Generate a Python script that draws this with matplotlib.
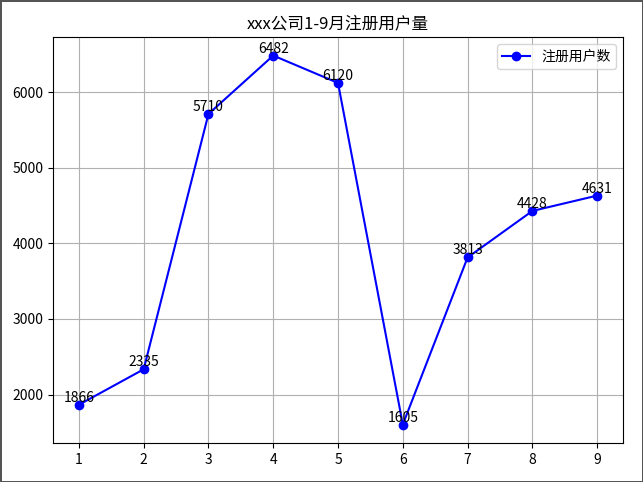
import matplotlib
matplotlib.use("Agg")
import matplotlib.pyplot as plt

plt.rcParams['font.family'] = ['Noto Sans CJK SC', 'DejaVu Sans']
plt.rcParams['axes.unicode_minus'] = False

months = [1, 2, 3, 4, 5, 6, 7, 8, 9]
users = [1866, 2335, 5710, 6482, 6120, 1605, 3813, 4428, 4631]
title = "xxx公司1-9月注册用户量"
series_name = "注册用户数"

fig = plt.figure(figsize=(6.43, 4.82), dpi=100, edgecolor='#555555', linewidth=2)
ax = fig.add_subplot(111)
fig.subplots_adjust(left=0.0824, right=0.969, top=0.923, bottom=0.081)

ax.plot(months, users, color='blue', marker='o', label=series_name)
for x, y in zip(months, users):
    ax.text(x, y, str(y), ha='center', va='bottom', fontsize=10)
ax.set_title(title, fontsize=12)
ax.set_xticks(months)
ax.grid(True)
ax.legend(loc='upper right')

fig.savefig("out.png", dpi=100, edgecolor=fig.get_edgecolor())
